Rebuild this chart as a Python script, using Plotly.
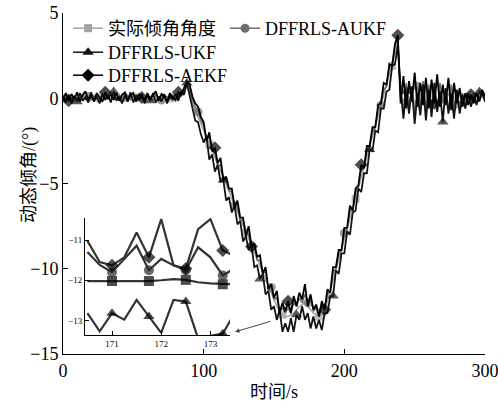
import plotly.graph_objects as go

# ---------------- data ----------------
time_s = list(range(0, 301, 2))

actual = [
    0.00, 0.05, -0.05, 0.02, 0.00, -0.03, 0.04, 0.00, -0.02, 0.03,
    0.00, 0.05, -0.04, 0.00, 0.02, -0.03, 0.00, 0.04, -0.02, 0.00,
    0.03, -0.04, 0.00, 0.02, 0.00, -0.03, 0.05, 0.00, -0.02, 0.03,
    0.00, -0.04, 0.02, 0.00, 0.03, -0.02, 0.00, 0.04, -0.03, 0.00,
    0.02, 0.05, 0.10, 0.30, 0.70, 0.40, -0.30, -0.70, -1.10, -1.50,
    -1.9, -2.3, -2.7, -3.1, -3.5, -3.9, -4.3, -4.7, -5.1, -5.5,
    -5.9, -6.3, -6.7, -7.1, -7.5, -7.9, -8.3, -8.7, -9.1, -9.5,
    -9.9, -10.3, -10.7, -11.1, -11.5, -11.9, -12.2, -12.5, -12.7, -12.8,
    -12.8, -12.7, -12.6, -12.4, -12.2, -12.1, -12.0, -12.2, -12.4, -12.6,
    -12.7, -12.8, -12.7, -12.5, -11.9, -11.3, -10.7, -10.1, -9.5, -8.9,
    -8.3, -7.7, -7.1, -6.5, -5.9, -5.3, -4.7, -4.1, -3.5, -2.9,
    -2.3, -1.7, -1.1, -0.5, 0.1, 0.7, 1.3, 1.9, 2.6, 3.3,
    0.1, -0.2, 0.3, -0.1, 0.2, -0.3, 0.1, 0.2, -0.2, 0.0,
    0.3, -0.2, 0.1, -0.3, 0.2, 0.0, -0.2, 0.3, -0.1, 0.1,
    -0.2, 0.2, 0.0, -0.1, 0.1, -0.1, 0.0, 0.1, -0.1, 0.1,
    0.0,
]

aukf = [
    0.10, -0.10, 0.20, -0.05, 0.15, 0.00, -0.10, 0.20, -0.05, 0.10,
    -0.10, 0.15, 0.05, -0.10, 0.20, -0.05, 0.10, -0.15, 0.15, 0.00,
    0.20, -0.10, 0.05, 0.15, -0.10, 0.10, 0.20, -0.05, 0.10, -0.10,
    0.15, 0.00, -0.10, 0.20, 0.05, -0.10, 0.15, 0.10, -0.05, 0.20,
    0.00, 0.15, 0.25, 0.50, 0.85, 0.55, -0.10, -0.50, -0.80, -1.30,
    -1.6, -2.4, -2.3, -3.0, -3.2, -4.0, -3.9, -4.7, -4.8, -5.4,
    -5.5, -6.3, -6.4, -7.2, -7.1, -7.8, -8.0, -8.8, -8.7, -9.5,
    -9.5, -10.2, -10.2, -11.1, -11.1, -11.8, -11.7, -12.5, -12.3, -12.6,
    -12.3, -12.6, -12.0, -12.2, -11.7, -12.0, -11.5, -12.0, -11.8, -12.5,
    -12.3, -12.8, -12.2, -12.4, -11.5, -11.3, -10.2, -10.0, -9.2, -8.9,
    -7.9, -7.6, -6.6, -6.5, -5.5, -5.2, -4.2, -4.1, -3.1, -2.8,
    -1.9, -1.7, -0.7, -0.4, 0.5, 0.7, 1.8, 2.0, 3.0, 3.5,
    0.4, -0.7, 0.9, -0.5, 0.6, -0.9, 0.7, -0.4, 1.0, -0.6,
    0.8, -0.5, 0.6, -0.8, 0.9, -0.3, 0.5, -0.7, 0.8, -0.4,
    0.2, -0.4, 0.3, -0.3, 0.2, -0.2, 0.3, -0.2, 0.1, 0.2,
    0.0,
]

ukf = [
    0.15, -0.25, 0.20, -0.30, 0.10, -0.20, 0.30, -0.15, 0.05, -0.25,
    0.35, -0.20, 0.10, -0.30, 0.25, -0.10, 0.20, -0.25, 0.40, -0.15,
    0.10, -0.30, 0.20, -0.20, 0.35, -0.25, 0.15, -0.10, 0.25, -0.30,
    0.20, -0.15, 0.30, -0.25, 0.10, -0.20, 0.25, -0.30, 0.15, -0.10,
    0.25, -0.15, 0.40, 0.20, 0.90, 0.10, -0.70, -1.30, -1.40, -2.10,
    -2.6, -2.2, -3.6, -3.3, -4.3, -3.9, -4.9, -4.8, -6.0, -5.8,
    -6.7, -6.3, -7.4, -7.2, -8.4, -8.1, -8.9, -8.6, -9.9, -9.8,
    -10.6, -10.3, -11.5, -11.3, -12.4, -12.2, -13.0, -12.4, -13.7, -13.2,
    -13.7, -12.9, -13.7, -12.7, -13.0, -12.2, -13.0, -12.6, -13.5, -12.8,
    -13.5, -13.0, -13.6, -12.6, -12.6, -11.6, -11.6, -10.1, -10.3, -9.1,
    -9.1, -7.8, -8.0, -6.7, -6.6, -5.3, -5.5, -4.4, -4.4, -3.0,
    -3.1, -1.9, -2.0, -0.6, -0.6, 0.4, 0.5, 1.9, 2.0, 3.1,
    0.6, -1.2, 0.4, -0.9, 0.7, -1.5, 0.3, -1.0, 0.8, -1.3,
    0.5, -1.1, 0.9, -0.8, 0.4, -1.4, 0.6, -0.9, 0.3, -1.2,
    0.5, -0.9, 0.2, -0.6, 0.3, -0.5, 0.1, -0.4, 0.4, 0.3,
    -0.2,
]

aekf = [
    -0.10, 0.30, -0.15, 0.25, -0.05, 0.35, -0.20, 0.20, 0.40, -0.10,
    0.20, -0.15, 0.30, 0.05, -0.20, 0.35, -0.05, 0.25, -0.10, 0.30,
    -0.15, 0.20, 0.35, -0.10, 0.15, 0.30, -0.20, 0.25, 0.05, -0.15,
    0.30, -0.05, 0.20, 0.40, -0.15, 0.25, 0.10, -0.20, 0.30, 0.05,
    -0.10, 0.35, 0.20, 0.60, 1.00, 0.80, 0.10, -0.30, -0.50, -1.10,
    -1.4, -2.5, -2.0, -3.1, -2.9, -3.8, -3.5, -4.8, -4.6, -5.3,
    -5.3, -6.4, -6.0, -7.0, -7.0, -8.1, -7.5, -8.7, -8.5, -9.3,
    -9.2, -10.3, -9.9, -11.2, -10.9, -11.7, -11.3, -12.6, -12.0, -12.5,
    -11.9, -12.6, -11.6, -12.2, -11.4, -11.8, -10.9, -12.2, -11.5, -12.4,
    -12.1, -12.8, -11.9, -12.4, -11.2, -11.4, -9.9, -9.9, -8.9, -8.9,
    -7.6, -7.6, -6.3, -6.6, -5.3, -5.1, -3.9, -4.1, -2.8, -2.8,
    -1.7, -1.7, -0.4, -0.3, 0.9, 0.8, 2.0, 1.9, 3.2, 3.7,
    -0.3, 1.3, -0.6, 1.0, -0.2, 1.5, -0.5, 0.9, -0.4, 1.2,
    -0.6, 1.1, -0.3, 1.4, -0.5, 0.8, -0.4, 1.2, -0.7, 0.9,
    -0.3, 0.6, -0.5, 0.3, -0.4, 0.2, -0.3, 0.3, -0.2, 0.5,
    0.1,
]

# inset (zoom of 170.5 s - 173.5 s)
inset_t = [170.5, 170.75, 171.0, 171.25, 171.5, 171.75, 172.0,
           172.25, 172.5, 172.75, 173.0, 173.25, 173.5]
inset_actual = [-12.02, -12.02, -12.02, -12.02, -12.02, -12.02, -12.0,
                -11.97, -11.99, -12.05, -12.08, -12.1, -12.1]
inset_aukf = [-11.30, -11.62, -11.80, -11.47, -11.14, -11.75, -11.47,
              -11.63, -11.75, -11.18, -11.43, -11.88, -11.70]
inset_ukf = [-12.82, -13.27, -12.82, -12.98, -12.49, -12.90, -13.31,
             -12.49, -12.53, -13.45, -13.38, -13.33, -12.80]
inset_aekf = [-11.02, -11.55, -11.63, -11.43, -10.81, -11.43, -10.48,
              -11.63, -11.71, -10.73, -10.48, -11.26, -11.40]

names = ["实际倾角角度", "DFFRLS-AUKF", "DFFRLS-UKF", "DFFRLS-AEKF"]
x_title = "时间/s"
y_title = "动态倾角/(°)"
x_ticks = [0, 100, 200, 300]
y_ticks = [-15, -10, -5, 0, 5]
inset_x_ticks = [171, 172, 173]
inset_y_ticks = [-13, -12, -11]

# ---------------- styling ----------------
FONT = "Liberation Serif, 'Times New Roman', 'Noto Sans CJK SC', serif"
colors = ["#a3a3a3", "#6e6e6e", "#141414", "#000000"]
widths = [1.5, 1.5, 1.8, 1.8]
symbols = ["square", "circle", "triangle-up", "diamond"]
msizes = [8, 9, 10, 10]
main_series = [actual, aukf, ukf, aekf]
inset_series = [inset_actual, inset_aukf, inset_ukf, inset_aekf]
offsets = [0, 4, 8, 11]

fig = go.Figure()

for k in range(4):
    sizes = [msizes[k] if (i + offsets[k]) % 13 == 0 else 0 for i in range(len(time_s))]
    fig.add_trace(go.Scatter(
        x=time_s, y=main_series[k], mode="lines+markers",
        line=dict(color=colors[k], width=widths[k]),
        marker=dict(symbol=symbols[k], size=sizes, color=colors[k], line=dict(width=0)),
        showlegend=False, hoverinfo="skip"))

# inset traces
for k in range(4):
    sizes = [10 if i in (2, 5, 8, 11) else 0 for i in range(len(inset_t))]
    fig.add_trace(go.Scatter(
        x=inset_t, y=inset_series[k], mode="lines+markers",
        xaxis="x2", yaxis="y2",
        line=dict(color="#333333", width=2.2),
        marker=dict(symbol=symbols[k], size=sizes,
                    color="#000000" if k != 1 else "#2a2a2a", line=dict(width=0)),
        showlegend=False, hoverinfo="skip"))

# legend-only traces
legend_ids = ["legend", "legend2", "legend3", "legend4"]
for k in range(4):
    fig.add_trace(go.Scatter(
        x=[None], y=[None], mode="lines+markers", name=names[k],
        line=dict(color=colors[k], width=1.5),
        marker=dict(symbol=symbols[k], size=msizes[k], color=colors[k]),
        legend=legend_ids[k]))

leg_common = dict(font=dict(family=FONT, size=18, color="#000"),
                  bgcolor="rgba(0,0,0,0)", borderwidth=0,
                  xanchor="left", yanchor="top", itemwidth=30)

axis_common = dict(ticks="inside", tickcolor="#000", showline=True, linecolor="#000",
                   linewidth=1, mirror=False, showgrid=False, zeroline=False,
                   automargin=False, ticklabeloverflow="allow")

fig.update_layout(
    template="none",
    width=498, height=407,
    margin=dict(l=63, r=13, t=13, b=53, autoexpand=False),
    paper_bgcolor="white", plot_bgcolor="white",
    font=dict(family=FONT, size=18, color="#000"),
    legend=dict(x=0.012, y=1.0088, **leg_common),
    legend2=dict(x=0.384, y=1.0088, **leg_common),
    legend3=dict(x=0.012, y=0.9384, **leg_common),
    legend4=dict(x=0.012, y=0.871, **leg_common),
    xaxis=dict(range=[0, 300], tickvals=x_ticks, ticklen=5,
               tickfont=dict(family=FONT, size=18, color="#000"), **axis_common),
    yaxis=dict(range=[-15, 5], tickvals=y_ticks, ticklen=5,
               tickfont=dict(family=FONT, size=18, color="#000"), **axis_common),
    xaxis2=dict(domain=[0.052, 0.396], anchor="y2", range=[170.45, 173.4],
                tickvals=inset_x_ticks, ticklen=4,
                tickfont=dict(family=FONT, size=9, color="#000"), **axis_common),
    yaxis2=dict(domain=[0.056, 0.399], anchor="x2", range=[-13.36, -10.45],
                tickvals=inset_y_ticks, ticklen=4,
                tickfont=dict(family=FONT, size=9, color="#000"), **axis_common),
)

fig.add_annotation(x=0.5, y=-0.111, xref="paper", yref="paper", text=x_title,
                   showarrow=False, xanchor="center", yanchor="middle",
                   font=dict(family=FONT, size=18, color="#000"))
fig.add_annotation(x=-0.078, y=0.525, xref="paper", yref="paper", text=y_title,
                   showarrow=False, xanchor="center", yanchor="middle", textangle=-90,
                   font=dict(family=FONT, size=18, color="#000"))

fig.add_annotation(x=122.3, y=-13.7, ax=148.6, ay=-13.06, xref="x", yref="y",
                   axref="x", ayref="y", showarrow=True, text="",
                   arrowhead=2, arrowsize=0.9, arrowwidth=1, arrowcolor="#444")

fig.write_html("out.html")
